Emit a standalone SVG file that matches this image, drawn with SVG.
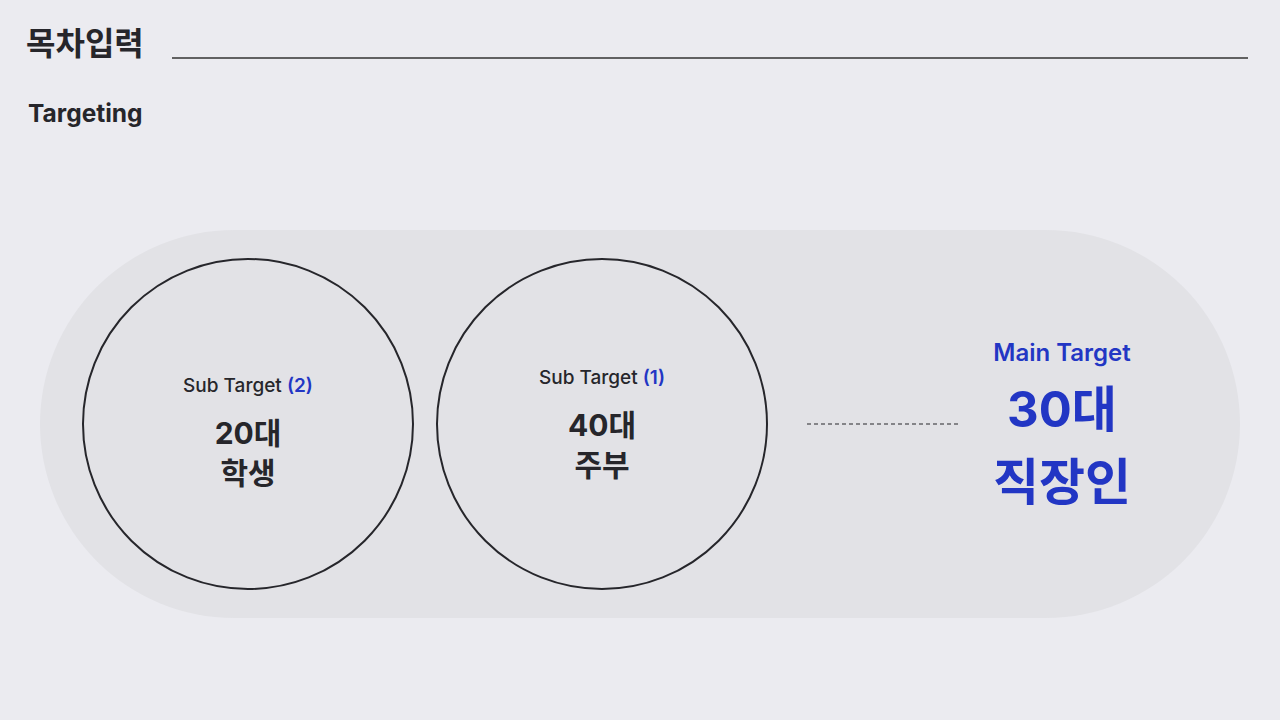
<svg xmlns="http://www.w3.org/2000/svg" width="1280" height="720" viewBox="0 0 1280 720">
<style>
text{font-family:Inter,"Noto Sans CJK KR",sans-serif;fill:#26262b}
.b{font-weight:700}
.sub{font-size:19px;font-weight:500;text-anchor:middle}
.big{font-size:30px;font-weight:700;text-anchor:middle}
.blue{fill:#2236c4}
.par{fill:#2236c4;font-weight:600}
.circ{fill:none;stroke:#26262b;stroke-width:2}
</style>
<rect width="1280" height="720" fill="#ebebf0"/>
<g id="header">
<text x="26" y="55" class="b" style="font-size:32px">목차입력</text>
<line x1="172" y1="58" x2="1248" y2="58" stroke="#333" stroke-width="1.5"/>
<text x="28" y="122" class="b" style="font-size:24.5px">Targeting</text>
</g>
<g id="band"><rect x="40" y="230" width="1200" height="388" rx="194" ry="194" fill="#e2e2e6"/></g>
<g id="sub2">
<circle cx="248" cy="424" r="165" class="circ"/>
<text x="248" y="392" class="sub">Sub Target <tspan class="par">(2)</tspan></text>
<text x="248" y="444" class="big">20대</text>
<text x="248" y="484" class="big">학생</text>
</g>
<g id="sub1">
<circle cx="602" cy="424" r="165" class="circ"/>
<text x="602" y="384" class="sub">Sub Target <tspan class="par">(1)</tspan></text>
<text x="602" y="436" class="big">40대</text>
<text x="602" y="476" class="big">주부</text>
</g>
<g id="connectors">
<line x1="807" y1="424" x2="961" y2="424" stroke="#26262b" stroke-width="1.2" stroke-dasharray="4 3"/>
</g>
<g id="main">
<text x="1062" y="361" class="blue" style="font-size:24px;font-weight:600;text-anchor:middle">Main Target</text>
<text x="1062" y="427" class="blue b" style="font-size:49px;text-anchor:middle">30대</text>
<text x="1062" y="500" class="blue b" style="font-size:50px;text-anchor:middle">직장인</text>
</g>
</svg>
